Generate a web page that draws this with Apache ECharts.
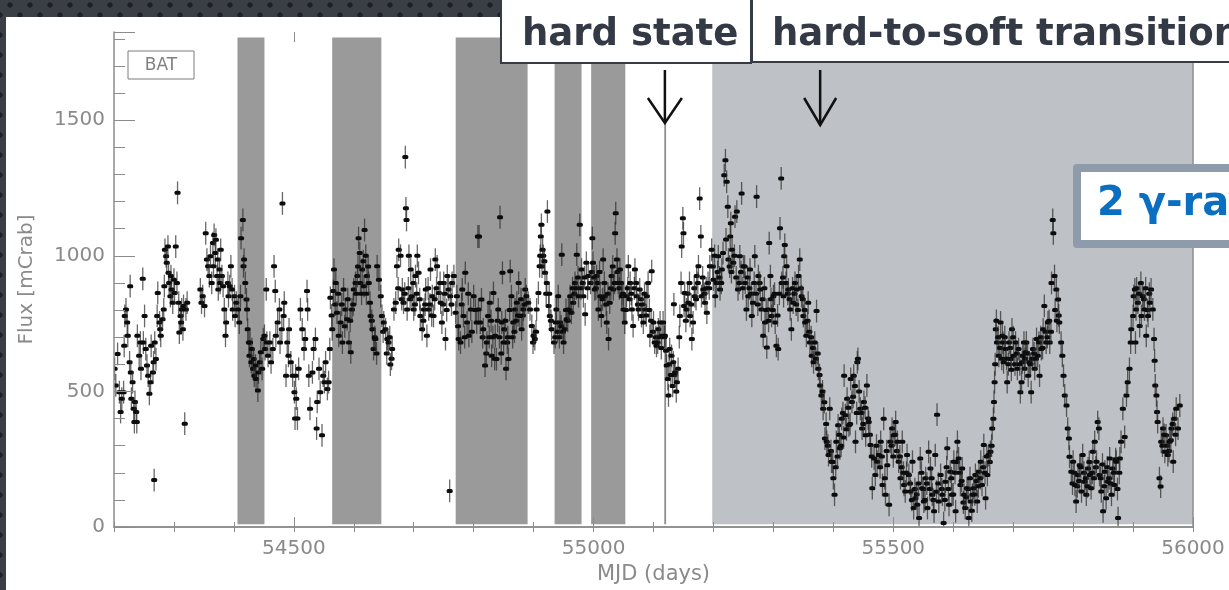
<!DOCTYPE html>
<html>
<head>
<meta charset="utf-8">
<script src="https://cdn.jsdelivr.net/npm/echarts@6/dist/echarts.min.js"></script>
<style>
  html, body { margin:0; padding:0; width:1229px; height:590px; overflow:hidden; }
  body {
    background-color:#3a3e45;
    background-image:
      radial-gradient(circle at 50% 50%, #1d2025 2.3px, rgba(0,0,0,0) 3px),
      radial-gradient(circle at 50% 50%, #1d2025 2.3px, rgba(0,0,0,0) 3px);
    background-size:20px 20px, 20px 20px;
    background-position:0px -5px, 10px 5px;
  }
  #panel { position:absolute; left:6px; top:17px; right:0; bottom:0; background:#ffffff; }
  #chart { position:absolute; left:0; top:0; width:1229px; height:590px; }
</style>
</head>
<body>
<div id="panel"></div>
<div id="chart"></div>
<script>
// ---------------- data (MJD, BAT flux in mCrab) ----------------
const bat2007 = [[54201,583],[54203,522],[54206,638],[54209,497],[54211,424],[54213,473],[54216,497],[54217,668],[54218,778],[54220,802],[54222,754],[54223,705],[54226,607],[54227,888],[54228,570],[54229,473],[54231,534],[54233,436],[54234,387],[54235,461],[54237,424],[54238,387],
[54239,705],[54242,631],[54244,680],[54245,583],[54248,915],[54249,680],[54251,778],[54253,656],[54255,595],[54257,558],
[54259,491],[54261,534],[54262,668],[54265,570],[54266,607],[54267,173],[54268,680],[54270,619],[54272,778],[54273,863],
[54276,754],[54277,729],[54278,705],[54281,766],[54283,802],[54284,888],
[54285,1022],[54287,998],[54288,974],[54290,1034],[54291,937],[54292,900],[54294,851],[54295,925],[54296,876],[54298,827],[54300,912],[54301,863],[54303,1034],[54305,900],[54306,1232],
[54308,827],[54309,717],[54311,778],[54312,754],[54313,802],[54315,729],[54316,815],[54318,381],[54320,802],[54322,827],
[54344,876],[54346,827],[54348,851],[54351,815],[54353,1083],[54355,986],[54357,961],[54359,925],[54361,998],
[54363,900],[54365,1047],[54366,961],[54367,1077],[54369,1010],[54370,1059],[54372,925],[54373,986],[54374,876],[54376,949],[54377,900],[54378,1022],[54380,925],[54382,888],[54384,802],
[54386,705],[54387,754],[54390,900],[54391,851],[54393,888],[54395,961],[54397,876],[54398,802],[54401,851],[54402,778],[54404,827],
[54407,802],[54409,754],[54411,851],[54412,1065],[54415,1132],[54416,961],[54417,986],[54419,900],[54421,839],[54422,802],[54423,729],
[54425,680],[54426,631],[54427,680],[54429,607],[54430,656],[54432,583],[54433,619],[54434,558],[54436,595],[54437,546],[54440,503],[54441,570],[54443,607],[54445,644],[54447,583],[54449,693],
[54451,705],[54452,656],[54454,876],[54455,680],[54457,631],[54460,680],[54462,607],[54465,656],[54467,961],[54469,870],[54470,705],
[54473,754],[54476,802],[54477,680],[54480,729],[54481,1193],[54483,778],[54484,827],[54487,558],[54489,680],[54491,631],[54492,729],[54495,607],[54498,558],[54501,497],[54502,400]];

const bat2008 = [[54503,558],[54504,473],[54506,400],[54508,583],[54511,802],[54514,729],[54517,656],[54519,693],[54522,870],[54523,802],[54525,558],[54527,436],[54531,570],[54533,656],[54536,693],[54538,363],[54539,461],[54542,583],[54544,497],[54547,338],[54549,558],[54551,534],[54553,607],[54556,509],[54558,534],
[54560,656],[54561,845],[54563,780],[54564,729],[54566,870],[54567,949],[54569,820],[54570,900],[54572,790],[54574,860],[54575,705],[54578,754],[54580,820],[54581,680],[54583,876],[54585,740],[54586,802],[54589,766],[54590,840],[54592,680],[54594,760],[54595,644],[54597,802],[54599,820],[54600,876],[54603,900],[54604,860],[54606,925],[54607,960],[54608,1065],[54610,1010],[54611,900],[54613,860],[54614,949],[54616,980],[54617,888],[54618,1095],[54620,1000],[54621,860],[54622,925],[54624,960],[54625,900],[54627,827],[54628,778],[54630,760],[54631,729],[54633,656],[54635,700],[54636,693],[54638,640],[54639,961],[54642,912],[54645,851],
[54647,778],[54649,720],[54650,754],[54653,729],[54655,640],[54656,693],[54658,680],[54660,700],[54661,599],[54663,620],[54664,656],[54667,802],
[54670,827],[54672,961],[54674,880],[54675,1022],[54678,1000],[54680,840],[54681,876],[54683,827],[54685,860],[54686,1364],[54687,1175],[54688,1132],[54689,802],[54691,880],[54692,1000],[54694,840],[54695,949],[54697,851],[54699,900],[54700,802],[54702,820],[54703,925],[54705,860],[54706,1000],[54708,937],[54710,840],[54711,778],[54714,729],[54716,760],[54717,802],[54719,820],[54720,876],[54722,705],[54724,880],[54725,802],[54727,820],[54728,949],[54730,780],[54731,851],[54733,778],[54735,840],[54736,986],[54738,880],[54739,961],[54742,863],[54744,900],[54745,827],[54747,754],[54749,820],[54750,900],[54752,860],[54753,693],[54755,800],[54756,925],[54758,876],[54760,133],[54761,851],[54763,820],[54764,900],[54767,925],
[54770,790],[54772,851],[54774,740],[54775,693],[54778,680],[54780,820],[54781,876],[54783,778],[54785,700],[54786,937],[54789,754],[54791,860],[54792,705],[54795,802],[54797,720],[54800,851],[54803,800],[54805,754],[54807,1071]];

const bat2009 = [[54808,802],[54809,1071],[54811,754],[54813,839],[54815,700],[54816,729],[54819,595],[54821,640],[54822,680],[54824,778],[54826,700],[54827,827],[54829,760],[54830,631],[54832,700],[54833,863],[54835,620],[54836,705],[54838,619],[54840,760],[54841,802],[54843,700],[54844,1142],[54846,640],[54847,754],[54848,937],[54850,680],[54851,729],[54853,760],[54854,583],[54856,680],[54857,700],[54858,619],[54860,800],[54861,943],[54863,851],[54865,700],[54866,754],[54868,720],[54869,802],[54871,760],[54872,827],[54874,780],[54875,900],[54877,778],[54879,840],[54880,729],[54882,780],[54883,802],[54885,820],[54886,876],
[54888,851],[54891,827],[54894,802],[54897,741],[54899,680],[54900,705],[54902,693],[54904,720],[54905,802],[54908,863],[54910,961],[54911,1000],[54912,1071],[54913,1114],[54914,960],[54915,1022],[54916,1000],[54918,980],[54919,937],[54921,860],[54922,900],[54923,1163],[54925,815],[54926,860],[54927,778],[54929,760],[54930,729],
[54934,680],[54936,700],[54937,754],[54938,802],[54940,720],[54941,851],[54943,700],[54944,754],[54946,740],[54947,1004],[54949,720],[54950,680],[54952,729],[54954,800],[54955,766],[54957,760],[54958,802],[54960,800],[54961,851],[54963,790],[54965,880],[54966,827],[54968,860],[54969,900],[54971,880],[54972,1004],[54974,920],[54975,851],
[54977,1114],[54979,880],[54980,949],[54982,900],[54983,851],[54985,920],[54986,784],[54988,974],[54990,880],[54991,925],
[54995,900],[54997,940],[54998,1065],[54999,974],[55001,920],[55002,876],[55004,880],[55005,925],[55007,900],[55008,802],[55010,940],[55011,851],[55013,778],[55015,840],[55016,986],[55018,900],[55019,851],[55021,820],[55022,754],[55024,860],[55025,693],[55027,827],[55029,880],[55030,925],[55032,960],[55033,876],[55035,900],[55036,1083],[55037,1157],[55039,986],[55040,940],[55041,900],[55043,880],[55044,949],[55046,900],[55047,851],[55049,860],[55050,802],
[55052,754],[55054,800],[55055,851],[55057,880],[55058,961],[55060,840],[55061,900],[55063,860],[55064,802],[55066,741],[55068,880],[55069,949],[55071,900],[55072,851],[55074,820],[55075,802],[55077,876],[55079,840],[55080,778],[55082,820],[55083,754],[55085,860],[55086,802],[55088,780],[55089,851],[55091,900],[55093,800],[55094,705],[55096,760],[55097,943],[55099,720],[55100,754],[55102,680],[55104,700],[55105,668],[55107,680],[55108,729],[55110,700],[55111,754],[55113,660],[55114,705]];

const bat2010 = [[55116,754],[55118,700],[55119,705],[55121,650],[55122,595],[55124,546],[55125,485],[55126,600],[55127,656],[55129,560],[55130,631],[55132,520],[55133,607],[55134,821],[55135,560],[55136,570],[55138,500],[55139,534],[55141,583],[55143,700],[55144,778],[55146,900],[55147,1034],[55149,1138],[55150,1083],[55151,815],[55152,863],[55154,760],[55155,802],[55157,860],[55158,827],[55160,900],[55161,778],[55163,820],[55164,693],[55166,754],[55168,880],[55169,851],[55171,840],[55172,925],[55174,900],[55175,961],[55177,1211],[55179,1071],[55180,851],[55182,920],[55183,876],[55185,860],[55186,827],[55188,880],[55189,790],[55191,900],[55193,880],[55194,961],
[55197,1022],[55199,960],[55200,912],[55202,1000],[55203,851],[55205,900],[55207,940],[55208,998],[55210,920],[55211,876],[55213,900],[55214,949],[55216,1010],[55218,1297],[55220,1352],[55221,1060],[55222,1273],[55224,1181],[55225,986],[55227,960],[55228,1071],[55229,1120],[55230,940],[55231,1022],[55233,974],[55235,1000],[55236,1144],[55238,920],[55239,1163],[55241,876],[55243,900],[55244,998],[55246,940],[55247,1230],[55249,880],[55250,961],[55252,960],[55253,900],[55255,802],[55257,920],[55258,851],[55260,880],[55261,949],[55263,860],[55264,778],[55266,827],[55268,900],[55269,998],[55271,860],[55272,1218],[55274,820],[55275,925],[55277,900],[55278,876],[55280,802],[55282,840],[55283,705],[55285,880],[55286,754],[55288,800],[55289,662],[55291,802],[55292,760],[55293,1047],[55295,925],[55296,840],[55297,778],[55299,800],[55300,851],[55302,860],[55303,754],[55305,668],[55307,780],[55308,656],[55310,860],[55311,1101],[55313,1285],[55314,900],[55316,920],[55317,851],[55318,998],[55319,1040],[55321,900],[55322,961],[55324,860],[55325,876],[55327,840],[55328,802],[55330,729],[55332,880],[55333,827],[55335,860],[55336,900],[55338,820],[55339,876],[55341,800],[55342,925],[55344,986],[55346,880],[55347,851],[55349,840],[55350,778],[55352,800],[55353,754],[55355,705],[55357,760],[55358,827],[55360,720],[55361,680],[55363,700],[55364,631],[55366,660],[55367,607],[55369,680],[55371,620],[55372,796],[55374,640],[55375,583],[55377,560],[55378,522],[55380,485],[55382,500],[55383,436],[55385,460],[55386,326],[55388,380],[55389,314],[55391,300],[55392,265],[55394,436],[55396,280],[55397,241],[55399,240],[55400,180],[55402,119],[55404,220],[55405,314],[55407,260],[55408,375],[55410,340],[55411,290],[55413,300],[55414,399],[55416,420]];

const bat2011 = [[55417,330],[55418,558],[55420,412],[55422,360],[55423,473],[55425,440],[55426,375],[55428,380],[55429,546],[55431,461],[55433,480],[55434,558],[55436,520],[55437,314],[55439,420],[55440,607],[55441,620],[55443,500],[55445,436],[55447,420],[55448,363],[55450,380],[55451,461],[55453,440],[55454,338],[55456,522],[55458,400],[55459,387],[55461,340],[55462,302],[55464,260],[55465,143],[55468,253],
[55470,192],[55472,300],[55473,241],[55476,265],[55478,220],[55479,314],[55481,260],[55482,155],[55484,399],[55486,180],[55487,119],[55489,280],[55490,228],[55493,82],[55495,314],[55497,300],[55498,363],[55500,260],[55501,338],[55503,340],[55504,387],[55506,280],[55507,314],[55509,241],[55511,260],[55512,180],[55514,220],[55515,314],[55517,200],[55518,155],[55520,131],[55522,200],[55523,265],
[55526,192],[55528,160],[55529,131],[55531,100],[55532,241],[55534,70],[55536,140],[55537,106],[55539,120],[55540,82],[55542,160],[55543,33],[55545,253],[55547,200],[55548,143],[55550,140],[55551,94],[55553,100],[55554,180],[55556,160],[55557,70],[55559,277],[55561,140],[55562,216],[55564,180],[55565,119],[55567,100],[55568,58],[55570,265],[55572,130],[55573,414],[55575,160],[55576,94],
[55579,192],[55581,140],[55582,119],[55584,15],[55586,100],[55587,167],[55589,220],[55590,290],[55592,140],[55593,82],[55595,204],[55597,180],[55598,119],[55600,120],[55601,241],[55603,200],[55604,58],[55606,240],[55607,314],[55609,253],[55611,200],[55612,155],[55614,170],[55615,216],[55617,90],[55618,119],[55620,70],[55622,110],[55623,143],[55625,140],[55626,33],[55628,180],[55629,94],[55631,60],[55632,119],[55634,143],[55636,120],[55637,192],[55639,170],[55640,94],[55642,150],[55643,204],[55645,180],[55646,241],[55648,155],[55650,220],[55651,302],[55653,200],[55654,106],[55656,260],[55657,192],[55659,265],[55661,240],[55662,277],[55664,300],[55665,363],[55667,399],[55668,461],[55669,534],
[55670,600],[55671,729],[55672,760],[55673,680],[55675,700],[55676,631],[55678,660],[55679,754],[55681,620],[55682,705],[55683,680],[55684,607],[55686,700],[55687,656],[55689,620],[55690,534],[55692,600],[55693,680],[55695,660],[55696,619],[55697,580],[55698,729],[55700,700],[55701,631],[55703,600],[55704,680],[55706,640],[55707,583]];

const bat2012 = [[55709,656],[55711,600],[55712,497],[55714,534],[55715,607],[55716,631],[55718,680],[55719,583],[55720,620],[55721,644],[55722,680],[55724,640],[55725,558],[55727,607],[55729,600],[55730,497],[55732,620],[55733,656],[55735,640],[55736,583],[55738,620],[55739,693],[55741,631],[55743,680],[55744,558],[55746,700],[55747,656],[55749,660],[55750,729],[55752,815],[55754,720],[55755,680],[55757,700],[55758,754],[55760,760],[55761,680],[55763,720],[55764,900],[55766,1132],[55767,1083],[55769,925],[55770,800],[55772,876],[55773,760],[55775,839],[55776,780],[55777,754],[55780,680],[55782,631],[55784,558],[55786,485],[55789,448],[55791,363],[55793,326],[55794,259],
[55797,204],[55799,160],[55800,241],[55802,200],[55803,155],[55805,94],[55807,150],[55808,192],[55810,170],[55811,228],[55813,220],[55814,131],[55816,265],[55818,200],[55819,167],[55821,180],[55822,119],[55824,150],[55825,216],[55827,240],[55828,192],[55830,143],[55832,200],[55833,277],[55835,180],[55836,314],[55838,220],[55839,241],[55841,387],[55843,363],[55844,192],[55846,180],[55847,131],[55849,230],[55850,58],[55852,150],[55853,204],[55855,106],[55857,220],[55858,167],[55860,180],[55861,253],[55863,160],[55864,119],[55866,216],[55868,200],[55869,155],[55871,250],[55872,241],[55874,140],[55875,33],[55877,200],[55878,253],[55880,314],
[55883,436],[55886,332],[55889,485],[55891,534],[55894,583],[55896,680],[55897,729],[55900,778],[55901,851],[55903,876],[55904,680],[55905,802],[55906,880],[55908,827],[55910,860],[55911,741],[55913,900],[55914,778],[55916,851],[55918,840],[55919,802],[55921,880],[55922,705],[55924,800],[55925,778],[55927,860],[55928,827],[55930,876],[55933,802],[55935,693],[55936,613],
[55937,522],[55939,485],[55940,424],[55941,387],[55944,180],[55946,149],[55947,314],[55949,300],[55950,363],[55952,340],[55953,277],[55955,338],[55957,300],[55958,265],[55960,280],[55961,314],[55963,320],[55964,363],[55966,380],[55967,241],[55969,399],[55971,340],[55972,436],[55975,363],[55978,448]];

const typicalError = 42;                       // mCrab, typical 1-sigma bar
const darkBands = [[54406,54451],[54564,54646],[54770,54890],[54935,54980],[54996,55053]];
const hardStateLine = [55118, 55121];
const softStateBand = [55198, 56000];
const bandFlux = [10, 1805];
const arrowMJD = { hard: 55119, transition: 55378 };
const xRange = [54200, 56000];
const yRange = [0, 1825];
const xMajorTicks = [54500, 55000, 55500, 56000];

const allPoints = [].concat(bat2007, bat2008, bat2009, bat2010, bat2011, bat2012);

const AX = '#8c8c8c';
const LBL = '#8a8a8a';
const FONT = 'DejaVu Sans';

const chart = echarts.init(document.getElementById('chart'), null, { renderer: 'canvas' });

function bandPair(x1, x2, y1, y2, color) {
  return [{ coord: [x1, y1], itemStyle: { color: color } }, { coord: [x2, y2] }];
}
const markData = [];
darkBands.forEach(b => markData.push(bandPair(b[0], b[1], bandFlux[0], bandFlux[1], '#9a9a9a')));
markData.push(bandPair(hardStateLine[0], hardStateLine[1], bandFlux[0], 1490, '#8f8f8f'));
markData.push(bandPair(softStateBand[0], softStateBand[1], bandFlux[0], bandFlux[1], '#bec1c5'));

const baseX = { type:'value', min:xRange[0], max:xRange[1], splitLine:{show:false}, z:4 };
const baseY = { type:'value', min:yRange[0], max:yRange[1], splitLine:{show:false}, z:4 };

const option = {
  backgroundColor: 'transparent',
  animation: false,
  grid: { left:114, right:36, top:32, bottom:61.5, containLabel:false },
  xAxis: [
    Object.assign({}, baseX, {
      position:'bottom', interval:100,
      axisLine:{ show:true, lineStyle:{ color:AX, width:1.5 } },
      axisTick:{ show:true, inside:true, length:5, lineStyle:{ color:AX, width:1 } },
      axisLabel:{ show:true, margin:12, color:LBL, fontSize:20, fontFamily:FONT,
        formatter: v => (v % 500 === 0 ? String(v) : '') },
      name:'MJD (days)', nameLocation:'middle', nameGap:37,
      nameTextStyle:{ color:LBL, fontSize:21, fontFamily:FONT }
    }),
    Object.assign({}, baseX, {
      position:'bottom',
      axisLine:{ show:false },
      axisTick:{ show:true, inside:true, length:10, customValues:xMajorTicks, lineStyle:{ color:AX, width:1 } },
      axisLabel:{ show:false }
    }),
    Object.assign({}, baseX, {
      position:'top', interval:100,
      axisLine:{ show:true, lineStyle:{ color:AX, width:1.5 } },
      axisTick:{ show:true, inside:true, length:5, lineStyle:{ color:AX, width:1 } },
      axisLabel:{ show:false }
    }),
    Object.assign({}, baseX, {
      position:'top',
      axisLine:{ show:false },
      axisTick:{ show:true, inside:true, length:10, customValues:xMajorTicks, lineStyle:{ color:AX, width:1 } },
      axisLabel:{ show:false }
    })
  ],
  yAxis: [
    Object.assign({}, baseY, {
      position:'left', interval:100,
      axisLine:{ show:true, lineStyle:{ color:AX, width:1.5 } },
      axisTick:{ show:true, inside:true, length:11, lineStyle:{ color:AX, width:1 } },
      axisLabel:{ show:false }
    }),
    Object.assign({}, baseY, {
      position:'left', interval:500,
      axisLine:{ show:false },
      axisTick:{ show:true, inside:true, length:21, lineStyle:{ color:AX, width:1 } },
      axisLabel:{ show:true, margin:9, color:LBL, fontSize:20, fontFamily:FONT,
        formatter: v => (v % 500 === 0 ? String(v) : '') },
      name:'Flux [mCrab]', nameLocation:'middle', nameGap:77,
      nameTextStyle:{ color:LBL, fontSize:20, fontFamily:FONT }
    }),
    Object.assign({}, baseY, {
      position:'right',
      axisLine:{ show:true, lineStyle:{ color:AX, width:1.5 } },
      axisTick:{ show:false }, axisLabel:{ show:false }
    })
  ],
  series: [
    {
      name:'bands', type:'scatter', data:[], z:1, silent:true,
      markArea:{ silent:true, data:markData, itemStyle:{ opacity:1 }, label:{ show:false }, emphasis:{ disabled:true } }
    },
    {
      name:'BAT', type:'custom', z:3, silent:true, clip:true,
      data: allPoints,
      renderItem: function (params, api) {
        const x = api.value(0), y = api.value(1);
        const p = api.coord([x, y]);
        const t = api.coord([x, y + typicalError]);
        const b = api.coord([x, y - typicalError]);
        return {
          type:'group',
          children:[
            { type:'line', shape:{ x1:p[0], y1:t[1], x2:p[0], y2:b[1] },
              style:{ stroke:'rgba(40,40,40,0.7)', lineWidth:1.3 } },
            { type:'rect', shape:{ x:p[0]-3, y:p[1]-2, width:6, height:4, r:1.5 },
              style:{ fill:'#0c0c0c' } }
          ]
        };
      }
    }
  ]
};
chart.setOption(option);

// ---------------- annotations (slide overlays) ----------------
const xHard = chart.convertToPixel({ xAxisIndex:0 }, arrowMJD.hard);
const xTrans = chart.convertToPixel({ xAxisIndex:0 }, arrowMJD.transition);
const DARK = '#363b44';

function txt(text, x, y, font, fill) {
  return { type:'text', silent:true, z:20,
    style:{ text:text, x:x, y:y, font:font, fill:fill,
      align:'left', verticalAlign:'middle', textAlign:'left', textVerticalAlign:'middle' } };
}

chart.setOption({
  graphic: [
    { type:'rect', silent:true, z:10, shape:{ x:128, y:51, width:66, height:28 },
      style:{ fill:'rgba(0,0,0,0)', stroke:'#7c7c7c', lineWidth:1 } },
    { type:'text', silent:true, z:10,
      style:{ text:'BAT', x:161, y:65.5, font:'17px "DejaVu Sans"', fill:'#808080',
        align:'center', verticalAlign:'middle', textAlign:'center', textVerticalAlign:'middle' } },
    { type:'polyline', silent:true, z:12, shape:{ points:[[xHard,70],[xHard,123]] },
      style:{ stroke:'#111', lineWidth:2.5, fill:null } },
    { type:'polyline', silent:true, z:12, shape:{ points:[[xHard-17,98],[xHard,123],[xHard+17,98]] },
      style:{ stroke:'#111', lineWidth:2.5, fill:null } },
    { type:'polyline', silent:true, z:12, shape:{ points:[[xTrans,70],[xTrans,125]] },
      style:{ stroke:'#111', lineWidth:2.5, fill:null } },
    { type:'polyline', silent:true, z:12, shape:{ points:[[xTrans-16,98],[xTrans,125],[xTrans+16,98]] },
      style:{ stroke:'#111', lineWidth:2.5, fill:null } },
    { type:'rect', silent:true, z:15, shape:{ x:752, y:-5, width:520, height:67 },
      style:{ fill:'#ffffff', stroke:DARK, lineWidth:2 } },
    { type:'rect', silent:true, z:16, shape:{ x:501, y:-5, width:250, height:68 },
      style:{ fill:'#ffffff', stroke:DARK, lineWidth:2 } },
    txt('hard state', 522, 35, 'bold 37px "DejaVu Sans"', '#343a45'),
    txt('hard-to-soft transition', 772, 35, 'bold 37px "DejaVu Sans"', '#343a45'),
    { type:'rect', silent:true, z:15, shape:{ x:1073, y:164, width:220, height:84, r:4 },
      style:{ fill:'#8e9bab' } },
    { type:'rect', silent:true, z:16, shape:{ x:1081, y:172, width:220, height:68 },
      style:{ fill:'#ffffff' } },
    txt('2 \u03b3-ray flares', 1097, 205, 'bold 40px "DejaVu Sans"', '#0b6fc1')
  ]
});
</script>
</body>
</html>
